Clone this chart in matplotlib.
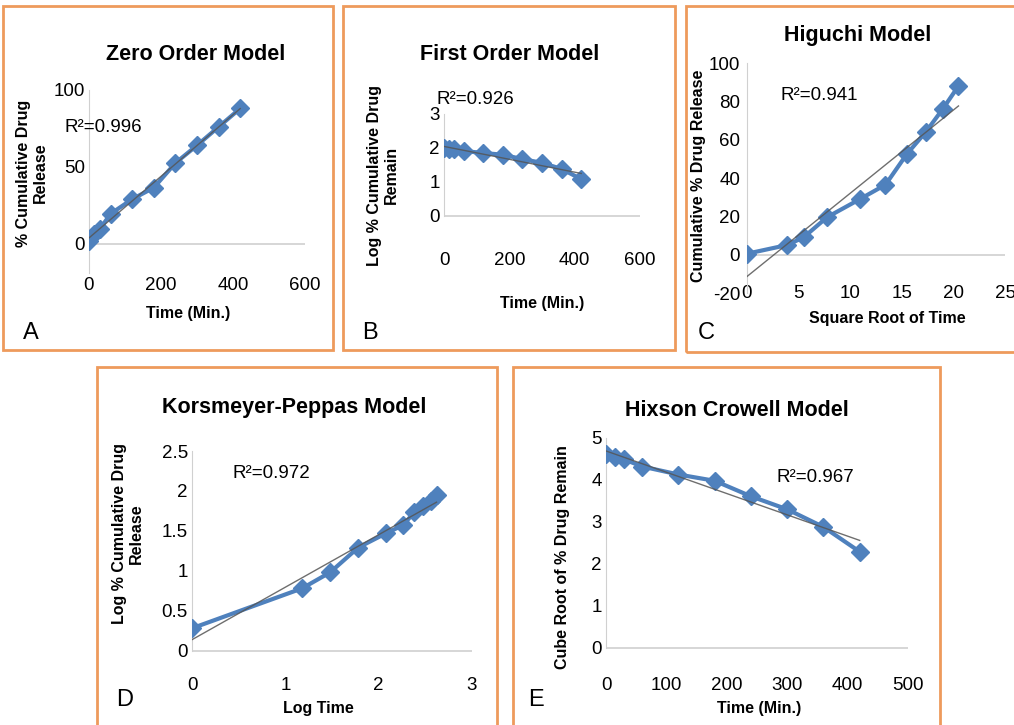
import numpy as np
import matplotlib
matplotlib.use("Agg")
from matplotlib import pyplot as plt
from matplotlib.patches import Rectangle

plt.rcParams['font.family'] = ['Liberation Sans', 'DejaVu Sans']
plt.rcParams['axes.unicode_minus'] = False

# release data
time_min = [0, 15, 30, 60, 120, 180, 240, 300, 360, 420]
cum_release = [2, 6.5, 9.5, 19.5, 29, 36.5, 52.5, 64, 76, 88]
log_remain = [1.99, 1.97, 1.96, 1.91, 1.85, 1.80, 1.67, 1.56, 1.38, 1.08]
sqrt_time = [0, 3.87, 5.48, 7.75, 10.95, 13.42, 15.49, 17.32, 18.97, 20.49]
higuchi_rel = [0.5, 5, 9, 19.5, 29, 36.5, 52.5, 64, 76, 88]
log_time = [0, 1.18, 1.48, 1.78, 2.08, 2.26, 2.38, 2.48, 2.56, 2.62]
log_release = [0.28, 0.78, 0.98, 1.29, 1.47, 1.57, 1.73, 1.81, 1.88, 1.95]
cube_remain = [4.61, 4.55, 4.49, 4.32, 4.13, 3.98, 3.61, 3.30, 2.88, 2.29]

W, H = 1014, 725
BLUE = '#4f81bd'
ORANGE = '#ee9a5c'
TITLE_FS = 15.5
TICK_FS = 13.5
LABEL_FS = 11.5
R2_FS = 13.5
LETTER_FS = 17

fig = plt.figure(figsize=(W / 100, H / 100), dpi=100)


def px_axes(x0, x1, y_top, y_bot):
    return fig.add_axes([x0 / W, 1 - y_bot / H, (x1 - x0) / W, (y_bot - y_top) / H])


def ftext(x, y, s, **kw):
    fig.text(x / W, 1 - y / H, s, **kw)


def box(x0, y0, x1, y1):
    fig.patches.append(Rectangle((x0 / W, 1 - y1 / H), (x1 - x0) / W, (y1 - y0) / H,
                                 transform=fig.transFigure, fill=False,
                                 edgecolor=ORANGE, linewidth=2))


def panel(ax, x, y, xlim, ylim, xticks, yticks, ytop, ylabels=None):
    ax.set_xlim(*xlim)
    ax.set_ylim(*ylim)
    ax.set_xticks(xticks)
    ax.set_yticks(yticks)
    if ylabels is not None:
        ax.set_yticklabels(ylabels)
    for s in ['top', 'right', 'bottom']:
        ax.spines[s].set_visible(False)
    ax.spines['left'].set_color('#d0d0d0')
    ax.spines['left'].set_bounds(ylim[0] if ylim[0] < -1 else 0, ytop)
    ax.axhline(0, color='#d0d0d0', lw=1.2, zorder=1)
    ax.tick_params(length=0, labelsize=TICK_FS, pad=3)
    ax.patch.set_alpha(0)
    # linear trend line
    k, b = np.polyfit(x, y, 1)
    xs = np.array([x[0], x[-1]])
    ax.plot(x, y, color=BLUE, lw=3, marker='D', ms=9, zorder=3)
    ax.plot(xs, k * xs + b, color='#555555', lw=1, alpha=0.85, zorder=4)


# panel boxes
box(3, 6, 333, 350)
box(343, 6, 675, 350)
box(686, 6, 1020, 352)
box(97, 367, 497, 730)
box(513, 367, 940, 730)

# A: zero order
ax = px_axes(89, 305, 90, 273)
panel(ax, time_min, cum_release, (0, 600), (-19, 100), [0, 200, 400, 600], [0, 50, 100], 100)
ftext(196, 55, 'Zero Order Model', ha='center', va='center', fontsize=TITLE_FS, fontweight='bold')
ftext(32, 173, '% Cumulative Drug\nRelease', ha='center', va='center', rotation=90,
      fontsize=LABEL_FS, fontweight='bold', linespacing=1.15)
ftext(188, 314, 'Time (Min.)', ha='center', va='center', fontsize=LABEL_FS, fontweight='bold')
ftext(64, 128, 'R²=0.996', ha='left', va='center', fontsize=R2_FS)
ftext(23, 333, 'A', ha='left', va='center', fontsize=LETTER_FS)

# B: first order
ax = px_axes(444, 640, 114, 248)
panel(ax, time_min, log_remain, (0, 600), (-0.95, 3), [0, 200, 400, 600], [0, 1, 2, 3], 3)
ftext(510, 55, 'First Order Model', ha='center', va='center', fontsize=TITLE_FS, fontweight='bold')
ftext(383, 175, 'Log % Cumulative Drug\nRemain', ha='center', va='center', rotation=90,
      fontsize=LABEL_FS, fontweight='bold', linespacing=1.15)
ftext(542, 303, 'Time (Min.)', ha='center', va='center', fontsize=LABEL_FS, fontweight='bold')
ftext(437, 100, 'R²=0.926', ha='left', va='center', fontsize=R2_FS)
ftext(362, 333, 'B', ha='left', va='center', fontsize=LETTER_FS)

# C: Higuchi
ax = px_axes(747, 1005, 63, 293)
panel(ax, sqrt_time, higuchi_rel, (0, 25), (-20, 100), [0, 5, 10, 15, 20, 25],
      [-20, 0, 20, 40, 60, 80, 100], 100)
ax.tick_params(axis='x', pad=-6)
ax.tick_params(axis='y', pad=5)
ftext(858, 35, 'Higuchi Model', ha='center', va='center', fontsize=TITLE_FS, fontweight='bold')
ftext(699, 176, 'Cumulative % Drug Release', ha='center', va='center', rotation=90,
      fontsize=LABEL_FS, fontweight='bold')
ftext(887, 318, 'Square Root of Time', ha='center', va='center', fontsize=LABEL_FS, fontweight='bold')
ftext(781, 95, 'R²=0.941', ha='left', va='center', fontsize=R2_FS)
ftext(698, 333, 'C', ha='left', va='center', fontsize=LETTER_FS)

# D: Korsmeyer-Peppas
ax = px_axes(192, 472, 451, 673)
panel(ax, log_time, log_release, (0, 3), (-0.28, 2.5), [0, 1, 2, 3],
      [0, 0.5, 1, 1.5, 2, 2.5], 2.5, ['0', '0.5', '1', '1.5', '2', '2.5'])
ftext(294, 407, 'Korsmeyer-Peppas Model', ha='center', va='center', fontsize=TITLE_FS, fontweight='bold')
ftext(128, 534, 'Log % Cumulative Drug\nRelease', ha='center', va='center', rotation=90,
      fontsize=LABEL_FS, fontweight='bold', linespacing=1.15)
ftext(318, 709, 'Log Time', ha='center', va='center', fontsize=LABEL_FS, fontweight='bold')
ftext(233, 474, 'R²=0.972', ha='left', va='center', fontsize=R2_FS)
ftext(116, 700, 'D', ha='left', va='center', fontsize=LETTER_FS)

# E: Hixson Crowell
ax = px_axes(606, 908, 438, 673)
panel(ax, time_min, cube_remain, (0, 500), (-0.6, 5), [0, 100, 200, 300, 400, 500],
      [0, 1, 2, 3, 4, 5], 5)
ftext(737, 410, 'Hixson Crowell Model', ha='center', va='center', fontsize=TITLE_FS, fontweight='bold')
ftext(563, 557, 'Cube Root of % Drug Remain', ha='center', va='center', rotation=90,
      fontsize=LABEL_FS, fontweight='bold')
ftext(759, 709, 'Time (Min.)', ha='center', va='center', fontsize=LABEL_FS, fontweight='bold')
ftext(777, 478, 'R²=0.967', ha='left', va='center', fontsize=R2_FS)
ftext(528, 700, 'E', ha='left', va='center', fontsize=LETTER_FS)

plt.savefig('out.png', dpi=100)
